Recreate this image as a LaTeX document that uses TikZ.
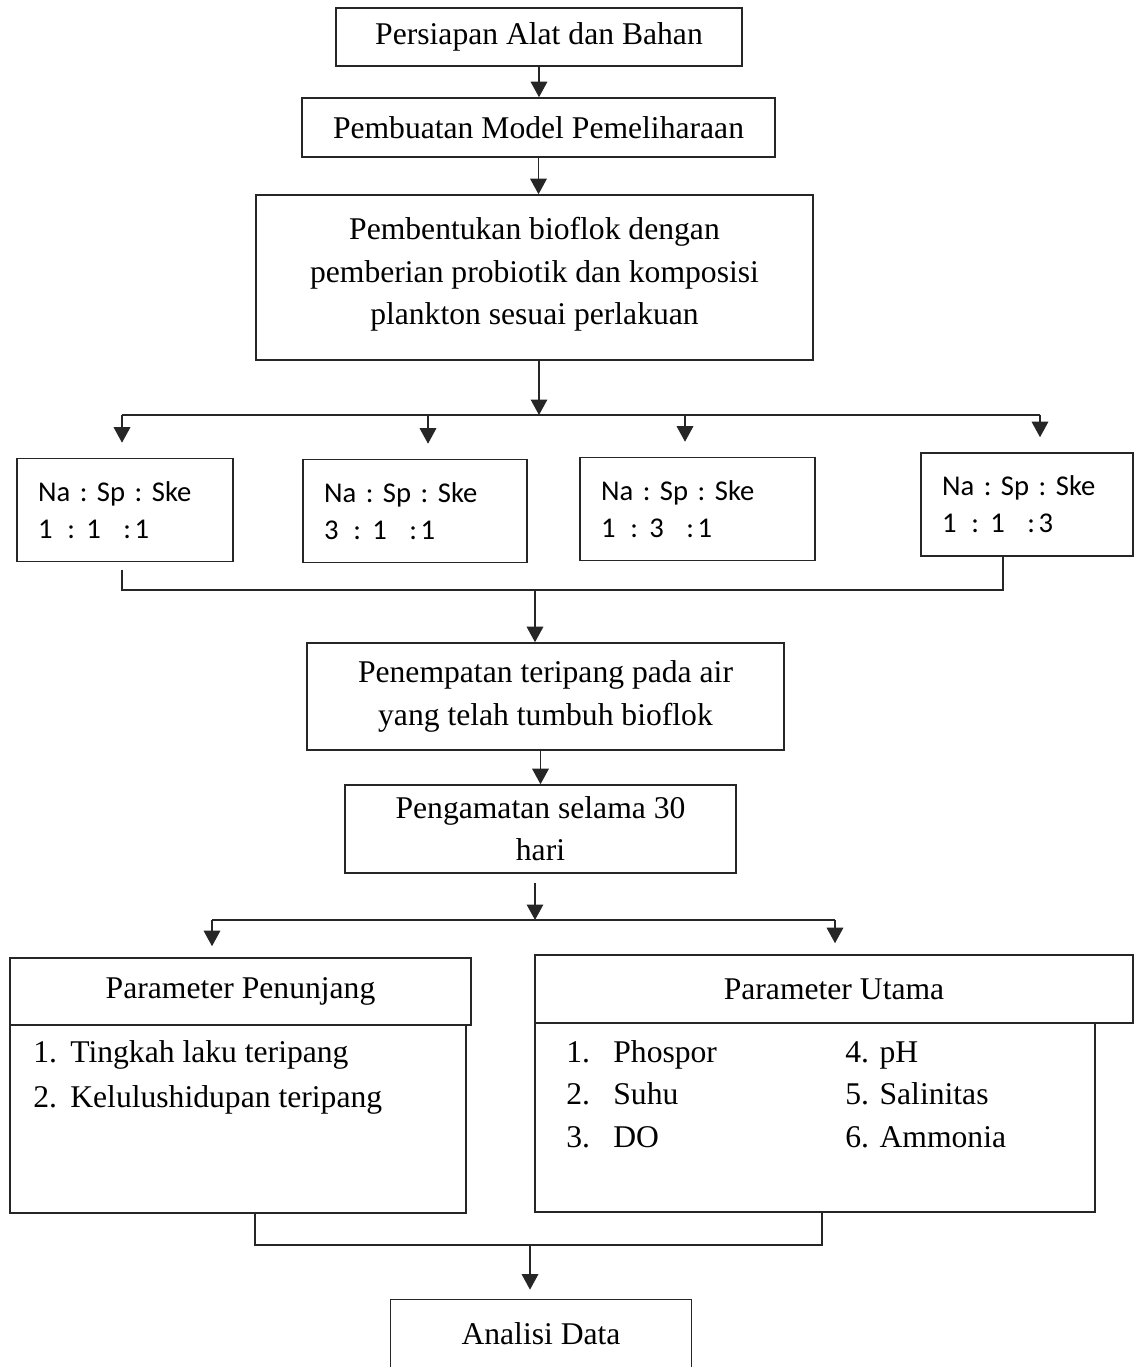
\documentclass[tikz,border=0pt]{standalone}
\usepackage{fontspec}
\setmainfont{Liberation Serif}
\newfontfamily\ratiofont{Carlito}
\newcommand\rsep[1]{~\hspace{#1}}
\usetikzlibrary{positioning,arrows.meta}

\begin{document}
\begin{tikzpicture}[x=0.02cm,y=-0.02cm,font=\fontsize{18}{24}\selectfont,
      stage/.style={draw=black!85,line width=0.9pt,align=center,inner sep=2pt},
      ratio/.style={draw=black!85,line width=0.9pt,align=left,inner xsep=0.42cm,minimum height=2.06cm,font=\ratiofont\fontsize{16.3}{21}\selectfont\frenchspacing},
      item/.style={anchor=base west,inner sep=0pt},
      link/.style={black!85,line width=0.9pt},
      arr/.style={link,-{Triangle[width=0.33cm,length=0.31cm]}}]
    \useasboundingbox (0,0) rectangle (1136,1367);
    \node[stage,minimum width=8.12cm,minimum height=1.16cm] (prep) at (539,37) {Persiapan Alat dan Bahan};
    \node[stage,minimum width=9.46cm,minimum height=1.18cm] (model) at (538.5,127.5) {Pembuatan Model Pemeliharaan};
    \node[stage,minimum width=11.14cm,minimum height=3.3cm] (floc) at (534.5,277.5) {Pembentukan bioflok dengan\\pemberian probiotik dan komposisi\\plankton sesuai perlakuan\\[-0.58cm]};
    \draw[arr] (prep.south) -- (prep.south |- model.north);
    \draw[arr] (model.south) -- (model.south |- floc.north);
    \foreach \i/\cx/\cy/\tw/\a/\b/\c in {1/125/510/3.48cm/1/1/1,2/415/511/3.64cm/3/1/1,3/697.5/509/3.86cm/1/3/1,4/1027/504.5/3.40cm/1/1/3}
      \node[ratio,text width=\tw] (r\i) at (\cx,\cy) {Na : Sp : Ske\\\a\rsep{3pt}:\rsep{1pt}\b~~\hspace{2pt}:\hspace{2pt}\c};
    \coordinate (splitA) at (539,415);
    \coordinate (busA1) at (122,415);
    \coordinate (busA4) at (1040,415);
    \draw[arr] (floc.south -| splitA) -- (splitA);
    \draw[link] (busA1) -- (busA4);
    \foreach \i/\x in {1/122,2/428,3/685,4/1040} {
      \coordinate (drop\i) at (\x,415);
      \draw[arr,shorten >=0.3cm] (drop\i) -- (drop\i |- r\i.north);
    }
    \node[stage,minimum width=9.54cm,minimum height=2.14cm] (place) at (545.5,696.5) {Penempatan teripang pada air\\yang telah tumbuh bioflok};
    \node[stage,minimum width=7.82cm,minimum height=1.76cm] (observe) at (540.5,829) {Pengamatan selama 30\\hari};
    \coordinate (joinA1) at (122,590);
    \coordinate (joinA4) at (1003,590);
    \coordinate (joinA) at (535,590);
    \draw[link,shorten <=0.16cm] (r1.south -| joinA1) -- (joinA1) -- (joinA4) -- (r4.south -| joinA4);
    \draw[arr] (joinA) -- (joinA |- place.north);
    \draw[arr] (place.south -| observe.north) -- (observe.north);
    \node[stage,minimum width=9.22cm,minimum height=1.34cm] (lhead) at (240.5,991.5) {Parameter Penunjang};
    \node[stage,minimum width=9.12cm,minimum height=3.76cm] (lbody) at (238,1119) {};
    \node[stage,minimum width=11.96cm,minimum height=1.36cm] (rhead) at (834,989) {Parameter Utama};
    \node[stage,minimum width=11.2cm,minimum height=3.78cm] (rbody) at (815,1117.5) {};
    \coordinate (splitB) at (535,920);
    \coordinate (busB1) at (212,920);
    \coordinate (busB2) at (835,920);
    \draw[arr,shorten <=0.18cm] (observe.south -| splitB) -- (splitB);
    \draw[link] (busB1) -- (busB2);
    \draw[arr,shorten >=0.22cm] (busB1) -- (busB1 |- lhead.north);
    \draw[arr,shorten >=0.22cm] (busB2) -- (busB2 |- rhead.north);
    \foreach \n/\txt/\yy in {1/Tingkah laku teripang/1062,2/Kelulushidupan teripang/1107} {
      \node[item] (lnum\n) at (33,\yy) {\n.};
      \node[item] (ltxt\n) at (70,\yy) {\txt};
    }
    \foreach \n/\txt/\m/\txtb/\yy in {1/Phospor/4/pH/1062,2/Suhu/5/Salinitas/1104,3/DO/6/Ammonia/1147} {
      \node[item] (rnum\n) at (566,\yy) {\n.};
      \node[item] (rtxt\n) at (613,\yy) {\txt};
      \node[item] (rmore\n) at (845,\yy) {\m. \txtb};
    }
    \node[minimum width=6cm,minimum height=1.34cm] (analisi) at (541,1333.5) {Analisi Data};
    \coordinate (joinB1) at (255,1245);
    \coordinate (joinB2) at (822,1245);
    \coordinate (joinB) at (530,1245);
    \draw[link] (lbody.south -| joinB1) -- (joinB1) -- (joinB2) -- (rbody.south -| joinB2);
    \draw[arr,shorten >=0.2cm] (joinB) -- (joinB |- analisi.north);
    \draw[link] (analisi.south west) |- (analisi.north east) -- (analisi.south east);
  \end{tikzpicture}
\end{document}
